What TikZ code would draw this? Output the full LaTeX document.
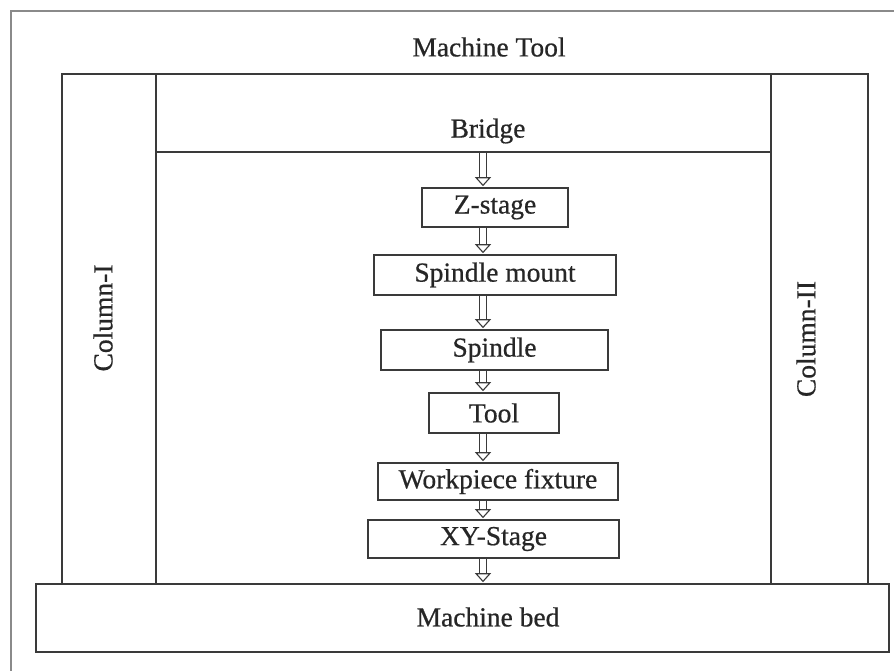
\documentclass[tikz,border=0pt]{standalone}
\usepackage{fontspec}
\setmainfont{Liberation Serif}[FakeBold=0.6]
\usetikzlibrary{arrows.meta}
\definecolor{ln}{HTML}{3A3A3A}
\definecolor{fr}{HTML}{8A8A8A}
\begin{document}
\begin{tikzpicture}[x=1pt,y=-1pt,
  txt/.style={font=\fontsize{27.5}{32}\selectfont, text=black!85, inner sep=0pt},
  part/.style={draw=ln, line width=1.6pt, rectangle, inner sep=0pt},
  stagebox/.style={part, txt},
  harrow/.style={draw=ln, double=white, double distance=6pt, line width=1.1pt,
    -{Triangle[open, length=9pt, width=16pt, line width=1.1pt]}, shorten >=1pt}
]
\useasboundingbox (0,0) rectangle (894,670);
\clip (0,0) rectangle (894,670);
\fill[white] (0,0) rectangle (894,670);
% outer frame
\draw[fr, line width=2.5pt] (11,680) -- (11,11) -- (900,11);
\node[txt] (mt) at (489,47) {Machine Tool};
% structure
\node[part, minimum width=615pt, minimum height=78pt] (bridge) at (463.5,113) {};
\node[part, minimum width=94pt, minimum height=510pt] (col1) at (109,329) {};
\node[part, minimum width=97pt, minimum height=510pt] (col2) at (819.5,329) {};
\node[part, minimum width=853pt, minimum height=68pt] (bed) at (462.5,618) {};
\node[txt] (bridgelbl) at (488,131) {Bridge};
\node[txt, rotate=90] (col1lbl) at (103,318) {Column-I};
\node[txt, rotate=90] (col2lbl) at (806,339) {Column-II};
\node[txt] (bedlbl) at (488,617) {Machine bed};
% stages
\node[stagebox, minimum width=146pt, minimum height=39pt] (zs) at (495,207.5) {Z-stage};
\node[stagebox, minimum width=242pt, minimum height=40pt] (sm) at (495,275) {Spindle mount};
\node[stagebox, minimum width=227pt, minimum height=40pt] (sp) at (494.5,350) {Spindle};
\node[stagebox, minimum width=130pt, minimum height=40pt] (tl) at (494,413) {Tool};
\node[stagebox, minimum width=240pt, minimum height=37pt] (wf) at (498,481.5) {Workpiece fixture};
\node[stagebox, minimum width=251pt, minimum height=38pt] (xy) at (493.5,539) {XY-Stage};
\coordinate (ax) at (483,0);
% connectors
\draw[harrow] (bridge.south -| ax) -- (zs.north -| ax);
\draw[harrow] (zs.south -| ax) -- (sm.north -| ax);
\draw[harrow] (sm.south -| ax) -- (sp.north -| ax);
\draw[harrow] (sp.south -| ax) -- (tl.north -| ax);
\draw[harrow] (tl.south -| ax) -- (wf.north -| ax);
\draw[harrow] (wf.south -| ax) -- (xy.north -| ax);
\draw[harrow] (xy.south -| ax) -- (bed.north -| ax);
\end{tikzpicture}
\end{document}
